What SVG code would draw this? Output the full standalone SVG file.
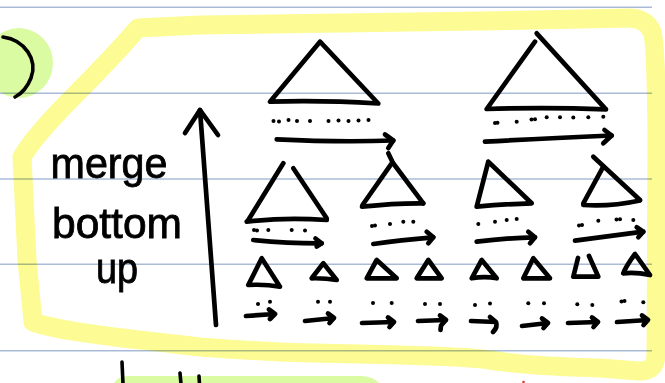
<svg xmlns="http://www.w3.org/2000/svg" width="665" height="383" viewBox="0 0 665 383">
<style>
.rule{stroke:#aabbd8;stroke-width:1.4;fill:none}
.hl{fill:none;stroke:#fdfb94;stroke-width:19;stroke-linecap:round;stroke-linejoin:round;mix-blend-mode:multiply}
.ink{fill:none;stroke:#000;stroke-width:4.7;stroke-linecap:round;stroke-linejoin:round}
.thin{fill:none;stroke:#000;stroke-width:3.6;stroke-linecap:round;stroke-linejoin:round}
.dot{fill:#000}
.hand{font-family:"Liberation Sans","DejaVu Sans",sans-serif;font-size:42px;fill:#000;stroke:#000;stroke-width:0.8;text-anchor:middle}
</style>
<rect width="665" height="383" fill="#fff"/>
<g id="paper-lines">
<line class="rule" x1="0" y1="7.3" x2="652" y2="7.3"/>
<line class="rule" x1="0" y1="93.3" x2="652" y2="93.3"/>
<line class="rule" x1="0" y1="179" x2="652" y2="179"/>
<line class="rule" x1="0" y1="264.3" x2="652" y2="264.3"/>
<line class="rule" x1="0" y1="350.7" x2="652" y2="350.7"/>
</g>
<g id="green-blob">
<ellipse cx="19" cy="63" rx="34" ry="35" fill="#dafba2" style="mix-blend-mode:multiply"/>
<path class="thin" d="M3 37 C25 40 38 60 31 78 C27 88 21 94 15 97"/>
</g>
<g id="bottom-fragment">
<path d="M114 383 Q117 377 128 376 L362 376 Q374 377 379 383 Z" fill="#dafba2" style="mix-blend-mode:multiply"/>
<line class="thin" x1="122" y1="362" x2="123" y2="384"/>
<line class="thin" x1="180" y1="373" x2="181" y2="384"/>
<line class="thin" x1="199" y1="376" x2="199.5" y2="384"/>
<circle cx="523.5" cy="382" r="1.3" fill="#e8382c"/>
</g>
<path id="highlight" class="hl" d="M33 322 C60 332 140 340 200 347 C240 350 260 351 280 352 C330 354 380 354 400 355 C440 356 470 357 490 360 C520 365 560 367 600 368 L638 371 Q655 372 656 356 L657 140 Q656 40 652 32 Q647 19 630 18 L480 21 L200 25 L138 28 C112 58 95 75 75 95 C55 115 33 138 22 157 L27 260 L33 322"/>
<g id="label">
<text class="hand" x="109" y="178" textLength="117" lengthAdjust="spacingAndGlyphs">merge</text>
<text class="hand" x="117" y="238" textLength="130" lengthAdjust="spacingAndGlyphs">bottom</text>
<text class="hand" x="117" y="283" textLength="42" lengthAdjust="spacingAndGlyphs">up</text>
</g>
<g id="up-arrow">
<path class="ink" d="M216 325 L200 110"/>
<path class="ink" d="M185 133 L200 110 L218 135"/>
</g>
<g id="level3-left">
<path class="ink" d="M320 41.7 L270 101.7 Q320 100 378.3 103.5 L320 41.7"/>
<g class="dot"><circle cx="273.5" cy="121" r="2"/><circle cx="279" cy="121.5" r="2"/><circle cx="288.5" cy="120" r="2"/><circle cx="297" cy="121" r="2"/><circle cx="310" cy="121" r="2"/><circle cx="328.5" cy="121" r="2"/><circle cx="338.5" cy="120.5" r="2"/><circle cx="348.5" cy="121" r="2"/><circle cx="358.5" cy="120.5" r="2"/><circle cx="368.5" cy="120" r="2"/></g>
<path class="ink" d="M276.7 139.3 Q340 142.5 393.3 140.5"/>
<path class="ink" d="M385 134.5 L393.3 140.5 L388.3 148"/>
</g>
<g id="level3-right">
<path class="ink" d="M536.7 33.3 L605 108.3"/>
<path class="ink" d="M535 41.7 L486.7 109 Q545 107 606 109.3"/>
<g class="dot"><circle cx="495" cy="123" r="2"/><circle cx="497.5" cy="122.7" r="2"/><circle cx="516.7" cy="121.7" r="2"/><circle cx="531.5" cy="119.5" r="2"/><circle cx="535" cy="119.3" r="2"/><circle cx="546.7" cy="117.3" r="2"/><circle cx="560" cy="117.3" r="2"/><circle cx="573.3" cy="117.5" r="2"/><circle cx="588.3" cy="117.3" r="2"/><circle cx="603.3" cy="116.7" r="2"/></g>
<path class="ink" d="M485 141.7 Q540 138.5 611.7 135.5"/>
<path class="ink" d="M604.5 130 L611.7 135.5 L603.3 143.3"/>
</g>
<g id="level2-1">
<path class="ink" d="M283.3 163.3 L248.3 220"/>
<path class="ink" d="M293.3 168.3 L326.7 218.3"/>
<path class="ink" d="M246.7 221.7 Q285 217 326.7 220"/>
<g class="dot"><circle cx="254" cy="230" r="2"/><circle cx="257" cy="230.5" r="2"/><circle cx="268.3" cy="230" r="2"/><circle cx="291.7" cy="230" r="2"/><circle cx="305" cy="230.5" r="2"/></g>
<path class="ink" d="M253.3 240 Q290 243.5 321.7 243.3"/>
<path class="ink" d="M315.5 238.5 L321.7 243.3 L316.7 246.5"/>
</g>
<g id="level2-2">
<path class="ink" d="M388.3 153.3 L393 163 L423.3 203.3"/>
<path class="ink" d="M391.7 163.3 L362.5 205"/>
<path class="ink" d="M362 206.7 Q395 203 423.3 203.3"/>
<g class="dot"><circle cx="372" cy="226" r="2"/><circle cx="375" cy="225.5" r="2"/><circle cx="390" cy="224" r="2"/><circle cx="403.3" cy="221.7" r="2"/><circle cx="413.3" cy="221.7" r="2"/></g>
<path class="ink" d="M373.3 244 Q400 240 433.3 237.3"/>
<path class="ink" d="M426.7 231.7 L433.3 237.3 L428.3 243.3"/>
</g>
<g id="level2-3">
<path class="ink" d="M488.3 161.7 L476.7 206.7 Q505 204 531.7 203.3 L488.3 161.7"/>
<g class="dot"><circle cx="478.3" cy="224" r="2"/><circle cx="495" cy="221.7" r="2"/><circle cx="506.7" cy="220" r="2"/><circle cx="516.7" cy="219" r="2"/></g>
<path class="ink" d="M476.7 241.7 Q505 238 535 237.3"/>
<path class="ink" d="M528.3 231.7 L535 237.3 L530 243.3"/>
</g>
<g id="level2-4">
<path class="ink" d="M593.3 156.7 L640 200"/>
<path class="ink" d="M603.3 166.7 L583.3 203.3"/>
<path class="ink" d="M583.3 205 Q610 207 640 200.5"/>
<g class="dot"><circle cx="579" cy="225.5" r="2"/><circle cx="582" cy="225" r="2"/><circle cx="598.3" cy="220.7" r="2"/><circle cx="616.5" cy="219.5" r="2"/><circle cx="620" cy="219.3" r="2"/><circle cx="633.3" cy="220" r="2"/></g>
<path class="ink" d="M575 240.7 Q610 236 643.3 231.7"/>
<path class="ink" d="M636.7 227.3 L643.3 231.7 L638.3 237.3"/>
</g>
<g id="level1">
<path class="ink" d="M261.7 258.3 L248.3 285 Q265 284 280 286.7 Z"/>
<path class="ink" d="M323.3 263.3 L311.7 278.3 Q325 278 336.7 280 Z"/>
<path class="ink" d="M376.7 260 L366.7 278.3 L396.7 278.3 Z"/>
<path class="ink" d="M428.3 260 L416.7 278.3 L441.7 278.3 Z"/>
<path class="ink" d="M481.7 260 L471.7 278.3 Q485 276 496.7 278.3 Z"/>
<path class="ink" d="M533.3 258.3 L523.3 278.3 L550 278.3 Z"/>
<path class="ink" d="M578 258 L573.3 276.7 L598.3 276.7 L589 256"/>
<path class="ink" d="M635 254 Q626 266 623.3 273.3 Q636 272 650 275 Z"/>
</g>
<g id="level0">
<g class="dot">
<circle cx="258" cy="304" r="2"/><circle cx="270" cy="301.7" r="2"/>
<circle cx="318" cy="301.7" r="2"/><circle cx="330" cy="301.7" r="2"/>
<circle cx="373" cy="303" r="2"/><circle cx="391.7" cy="303" r="2"/>
<circle cx="425" cy="304" r="2"/><circle cx="440" cy="304" r="2"/>
<circle cx="475" cy="305" r="2"/><circle cx="490" cy="303.5" r="2"/>
<circle cx="528.3" cy="303.3" r="2"/><circle cx="544" cy="303.3" r="2"/>
<circle cx="577.3" cy="304.3" r="2"/><circle cx="592.3" cy="305" r="2"/>
<circle cx="621.5" cy="301.5" r="2"/><circle cx="624.5" cy="301" r="2"/><circle cx="643.3" cy="302.3" r="2"/>
</g>
<path class="ink" d="M246 316 L275 314 M269 309.5 L275 314 L270 319"/>
<path class="ink" d="M305 321 L334 318 M328 313.5 L334 318 L329.5 323"/>
<path class="ink" d="M362 323 L394 322 M388 317.5 L394 322 L389.5 327"/>
<path class="ink" d="M418 321 L446 320 M440 315.5 L446 320 L441 325.5 L440.5 330"/>
<path class="ink" d="M471 321 L496 322 Q498 327 493 332 M490 317 L496 322"/>
<path class="ink" d="M522 326 L548 323 M542 318.5 L548 323 L543.5 328"/>
<path class="ink" d="M568 323 L598 322 M592 317.5 L598 322 L593.5 327"/>
<path class="ink" d="M617 322 L648 320 M642 315.5 L648 320 L643.5 325"/>
</g>
</svg>
